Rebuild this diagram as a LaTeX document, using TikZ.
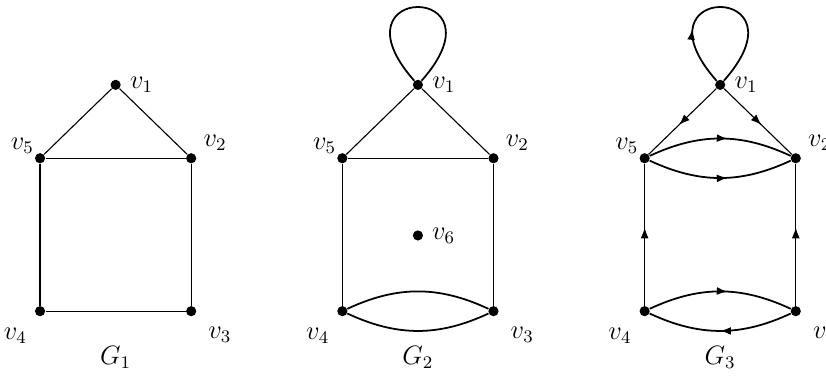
\documentclass[tikz,border=0pt]{standalone}
\usetikzlibrary{arrows.meta, decorations.markings}

\begin{document}
\begin{tikzpicture}[
		x=1.2cm, y=1.214cm,
		font=\fontsize{11.5}{14}\selectfont,
		% Vertex styles
		vertex/.style={circle, fill=black, inner sep=0pt, minimum size=4.6pt},
		every label/.style={inner sep=1pt},
		% Edge styles
		edge/.style={line width=0.5pt},
		arc/.style={thick},
		midarrow/.style={postaction={decorate}, decoration={markings, mark=at position #1 with {\arrow{Latex[length=1.7mm, width=1.25mm]}}}},
		midarrow/.default=0.55
		]
		\useasboundingbox (-0.53,2.07) rectangle (10.4,-2.95);
		
		% --- G1: SIMPLE GRAPH ---
		\node[vertex, label={[label distance=2.8pt]0:$v_1$}] (A1) at (1,0.96) {};
		\node[vertex, label={[label distance=2.5pt]28.6:$v_2$}] (A2) at (2,0) {};
		\node[vertex, label={[label distance=6.5pt]-43.9:$v_3$}] (A3) at (2,-2) {};
		\node[vertex, label={[label distance=5.5pt]234:$v_4$}] (A4) at (0,-2) {};
		\node[vertex, label={[label distance=-0.6pt]146.6:$v_5$}] (A5) at (0,0) {};
		\node (G1) at (1,-2.61) {$G_1$};
		
		\draw[edge] (A1) -- (A2);
		\draw[edge] (A1) -- (A5);
		\draw[edge] (A5) -- (A2);
		\draw[edge] (A5) -- (A4);
		\draw[edge] (A2) -- (A3);
		\draw[edge] (A4) -- (A3);
		
		% --- G2: LOOP, PARALLEL EDGES, ISOLATED VERTEX ---
		\node[vertex, label={[label distance=2.8pt]0:$v_1$}] (B1) at (5,0.96) {};
		\node[vertex, label={[label distance=2.5pt]28.6:$v_2$}] (B2) at (6,0) {};
		\node[vertex, label={[label distance=6.5pt]-43.9:$v_3$}] (B3) at (6,-2) {};
		\node[vertex, label={[label distance=5.5pt]234:$v_4$}] (B4) at (4,-2) {};
		\node[vertex, label={[label distance=-0.6pt]146.6:$v_5$}] (B5) at (4,0) {};
		\node[vertex, label={[label distance=2.7pt]0:$v_6$}] (B6) at (5,-1.01) {};
		\node (G2) at (5,-2.61) {$G_2$};
		
		\draw[arc] (B1) .. controls +(-1.2,1.34) and +(1.2,1.34) .. (B1);
		\draw[edge] (B1) -- (B2);
		\draw[edge] (B1) -- (B5);
		\draw[edge] (B5) -- (B2);
		\draw[edge] (B5) -- (B4);
		\draw[edge] (B2) -- (B3);
		\draw[arc] (B4) to[bend left=25] (B3);
		\draw[arc] (B4) to[bend right=25] (B3);
		
		% --- G3: DIRECTED VERSION ---
		\node[vertex, label={[label distance=2.8pt]0:$v_1$}] (C1) at (9,0.96) {};
		\node[vertex, label={[label distance=2.5pt]28.6:$v_2$}] (C2) at (10,0) {};
		\node[vertex, label={[label distance=6.5pt]-43.9:$v_3$}] (C3) at (10,-2) {};
		\node[vertex, label={[label distance=5.5pt]234:$v_4$}] (C4) at (8,-2) {};
		\node[vertex, label={[label distance=-0.6pt]146.6:$v_5$}] (C5) at (8,0) {};
		\node (G3) at (9,-2.61) {$G_3$};
		
		\draw[arc, midarrow=0.3] (C1) .. controls +(-1.2,1.34) and +(1.2,1.34) .. (C1);
		\draw[edge, midarrow] (C1) -- (C5);
		\draw[edge, midarrow] (C1) -- (C2);
		\draw[arc, midarrow] (C5) to[bend left=25] (C2);
		\draw[arc, midarrow] (C5) to[bend right=25] (C2);
		\draw[edge, midarrow] (C4) -- (C5);
		\draw[edge, midarrow] (C3) -- (C2);
		\draw[arc, midarrow] (C4) to[bend left=25] (C3);
		\draw[arc, midarrow=0.5] (C3) to[bend left=25] (C4);
		
	\end{tikzpicture}
\end{document}
